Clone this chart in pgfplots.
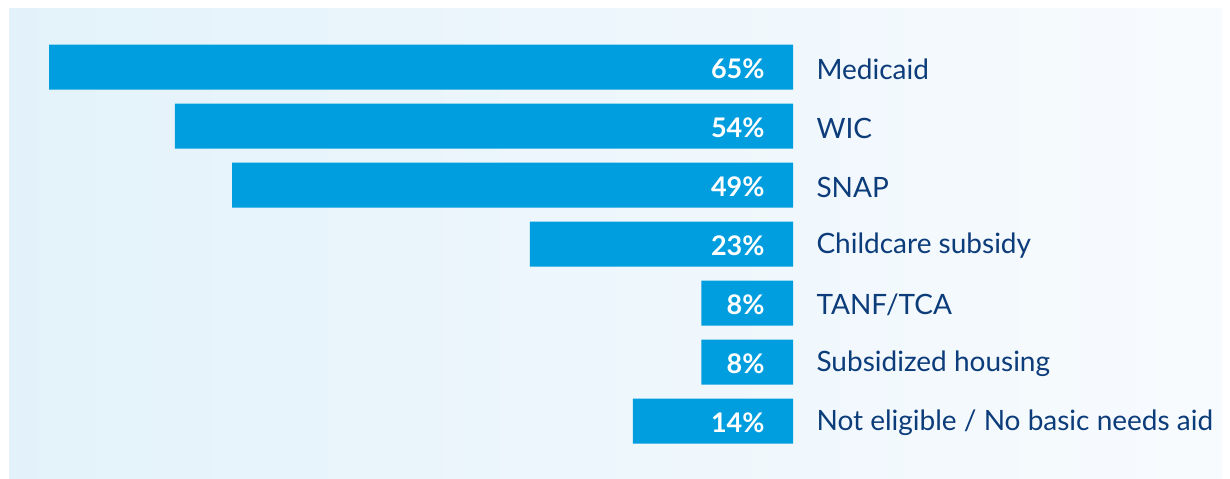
\documentclass[border=0pt]{standalone}
\usepackage{pgfplots}
\pgfplotsset{compat=1.18}
\usepackage{fontspec}
\setmainfont{Lato}

\definecolor{barblue}{RGB}{0,158,222}
\definecolor{textblue}{RGB}{12,60,122}
\definecolor{bgleft}{RGB}{227,242,250}
\definecolor{bgright}{RGB}{248,251,254}

\begin{document}
\begin{tikzpicture}[x=1bp,y=1bp]
% canvas and background panel
\path (0,0) rectangle (1230,-479);
\shade[left color=bgleft, right color=bgright] (9,-9) rectangle (1222,-479);

\begin{axis}[
  at={(9bp,-9bp)}, anchor=north west,
  scale only axis, width=784bp, height=470bp,
  x dir=reverse, y dir=reverse,
  xmin=0, xmax=68.5,
  ymin=-0.983, ymax=6.983,
  hide axis, clip=false,
]
\addplot[xbar, bar width=45bp, bar shift=0pt, fill=barblue, draw=none] coordinates {
  (65,0) (54,1) (49,2) (23,3) (8,4) (8,5) (14,6)};

% value labels at the base of each bar
\addplot[draw=none, mark=none, nodes near coords, point meta=explicit symbolic,
  nodes near coords style={anchor=east, xshift=-25bp, yshift=-2bp, text=white,
    font=\fontsize{27bp}{30bp}\selectfont\bfseries}]
  coordinates {(0,0)[65\%] (0,1)[54\%] (0,2)[49\%] (0,3)[23\%]
               (0,4)[8\%] (0,5)[8\%] (0,6)[14\%]};

% category names to the right
\addplot[draw=none, mark=none, nodes near coords, point meta=explicit symbolic,
  nodes near coords style={anchor=west, xshift=20bp, yshift=-2bp, text=textblue,
    font=\fontsize{28bp}{32bp}\selectfont}]
  coordinates {(0,0)[Medicaid] (0,1)[WIC] (0,2)[SNAP] (0,3)[Childcare subsidy]
               (0,4)[TANF/TCA] (0,5)[Subsidized housing]
               (0,6)[Not eligible / No basic needs aid]};
\end{axis}
\end{tikzpicture}
\end{document}
